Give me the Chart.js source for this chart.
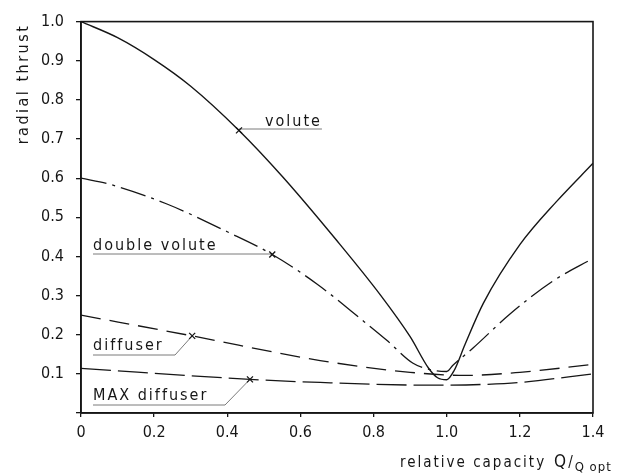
<!DOCTYPE html>
<html>
<head>
<meta charset="utf-8">
<script src="https://cdn.jsdelivr.net/npm/chart.js@4/dist/chart.umd.min.js"></script>
<style>
  html, body { margin: 0; padding: 0; background: #ffffff; }
  #wrap { width: 626px; height: 473px; }
</style>
</head>
<body>
<div id="wrap"><canvas id="c" width="626" height="473"></canvas></div>
<script>
// Relative capacity Q/Qopt and radial thrust for each casing type
const voluteQ = [0, 0.1, 0.2, 0.3, 0.432, 0.55, 0.7, 0.82, 0.9, 0.95, 0.975, 1.0, 1.02, 1.05, 1.1, 1.2, 1.3, 1.4];
const voluteR = [1.0, 0.959, 0.903, 0.835, 0.722, 0.605, 0.44, 0.30, 0.195, 0.115, 0.09, 0.085, 0.108, 0.175, 0.28, 0.43, 0.54, 0.638];

const doubleVoluteQ = [0, 0.08, 0.235, 0.40, 0.523, 0.646, 0.772, 0.837, 0.908, 0.963, 1.0, 1.017, 1.072, 1.173, 1.29, 1.4];
const doubleVoluteR = [0.6, 0.584, 0.534, 0.463, 0.405, 0.329, 0.235, 0.185, 0.127, 0.109, 0.106, 0.122, 0.166, 0.253, 0.337, 0.395];

const diffuserQ = [0, 0.304, 0.654, 0.9, 1.05, 1.2, 1.4];
const diffuserR = [0.25, 0.197, 0.134, 0.104, 0.096, 0.104, 0.124];

const maxDiffuserQ = [0, 0.462, 0.654, 0.963, 1.1, 1.2, 1.4];
const maxDiffuserR = [0.114, 0.086, 0.078, 0.071, 0.073, 0.078, 0.1];

const seriesNames = ['volute', 'double volute', 'diffuser', 'MAX diffuser'];
// index of the point each label's leader line points to
const labelPointIndex = [4, 4, 1, 1];

const xTickValues = [0, 0.2, 0.4, 0.6, 0.8, 1.0, 1.2, 1.4];
const xTickLabels = ['0', '0.2', '0.4', '0.6', '0.8', '1.0', '1.2', '1.4'];
const yTickValues = [0.1, 0.2, 0.3, 0.4, 0.5, 0.6, 0.7, 0.8, 0.9, 1.0];
const yTickLabels = ['0.1', '0.2', '0.3', '0.4', '0.5', '0.6', '0.7', '0.8', '0.9', '1.0'];

const yTitle = 'radial thrust';
const xTitle = 'relative capacity';
const xTitleSub = 'Q opt';

const INK = '#161616';
const FONT = "'DejaVu Sans Condensed', 'DejaVu Sans', sans-serif";

const toPoints = (qs, rs) => qs.map((q, i) => ({ x: q, y: rs[i] }));

const lineStyle = {
  borderColor: INK,
  backgroundColor: INK,
  pointRadius: 0,
  fill: false,
  tension: 0.4,
  cubicInterpolationMode: 'monotone'
};

const datasets = [
  Object.assign({}, lineStyle, { label: seriesNames[0], data: toPoints(voluteQ, voluteR), borderWidth: 1.4 }),
  Object.assign({}, lineStyle, { label: seriesNames[1], data: toPoints(doubleVoluteQ, doubleVoluteR), borderWidth: 1.3, borderDash: [26, 6, 3, 6] }),
  Object.assign({}, lineStyle, { label: seriesNames[2], data: toPoints(diffuserQ, diffuserR), borderWidth: 1.3, borderDash: [20, 9] }),
  Object.assign({}, lineStyle, { label: seriesNames[3], data: toPoints(maxDiffuserQ, maxDiffuserR), borderWidth: 1.3, borderDash: [30, 7] })
];

// Label placement: text left/baseline in pixels, leader elbow
const labelLayout = [
  { tx: 265, ty: 126, ly: 129, elbowX: null },
  { tx: 93, ty: 250, ly: 254, elbowX: null },
  { tx: 93, ty: 350, ly: 355, elbowX: 175 },
  { tx: 93, ty: 400, ly: 405, elbowX: 225 }
];

const decorations = {
  id: 'decorations',
  afterDraw(chart) {
    const { ctx, chartArea: a, scales } = chart;
    const xs = scales.x, ys = scales.y;
    ctx.save();

    // plot frame
    ctx.strokeStyle = INK;
    ctx.lineWidth = 1.6;
    ctx.strokeRect(a.left, a.top, a.right - a.left, a.bottom - a.top);

    // curve labels with leader lines
    ctx.font = '16px ' + FONT;
    ctx.letterSpacing = '2px';
    ctx.fillStyle = INK;
    ctx.textBaseline = 'alphabetic';
    ctx.textAlign = 'left';
    datasets.forEach((ds, i) => {
      const L = labelLayout[i];
      const p = ds.data[labelPointIndex[i]];
      const px = xs.getPixelForValue(p.x);
      const py = ys.getPixelForValue(p.y);
      ctx.fillText(seriesNames[i], L.tx, L.ty);

      ctx.strokeStyle = '#7a7a7a';
      ctx.lineWidth = 1;
      ctx.beginPath();
      if (L.elbowX === null) {
        const startX = Math.min(L.tx, px);
        const endX = i === 0 ? L.tx + ctx.measureText(seriesNames[i]).width : px;
        ctx.moveTo(i === 0 ? px : startX, L.ly);
        ctx.lineTo(endX, L.ly);
      } else {
        ctx.moveTo(L.tx, L.ly);
        ctx.lineTo(L.elbowX, L.ly);
        ctx.lineTo(px, py);
      }
      ctx.stroke();

      // small marker where the leader meets the curve
      ctx.strokeStyle = INK;
      ctx.lineWidth = 1.3;
      ctx.beginPath();
      ctx.moveTo(px - 3, py - 3); ctx.lineTo(px + 3, py + 3);
      ctx.moveTo(px - 3, py + 3); ctx.lineTo(px + 3, py - 3);
      ctx.stroke();
    });

    // y axis title, rotated, near the top
    ctx.font = '16px ' + FONT;
    ctx.letterSpacing = '2.5px';
    ctx.save();
    ctx.translate(24, 84);
    ctx.rotate(-Math.PI / 2);
    ctx.textAlign = 'center';
    ctx.textBaseline = 'middle';
    ctx.fillText(yTitle, 0, 0);
    ctx.restore();

    // x axis title with subscripted ratio
    ctx.textAlign = 'left';
    ctx.textBaseline = 'alphabetic';
    ctx.font = '15px ' + FONT;
    ctx.letterSpacing = '2px';
    let x0 = 400;
    const base = 467;
    ctx.fillText(xTitle, x0, base);
    x0 += ctx.measureText(xTitle).width + 8;
    ctx.font = '17px ' + FONT;
    ctx.fillText('Q', x0, base);
    x0 += ctx.measureText('Q').width;
    ctx.font = '15px ' + FONT;
    ctx.fillText('/', x0, base);
    x0 += ctx.measureText('/').width;
    ctx.font = '13px ' + FONT;
    ctx.letterSpacing = '1px';
    ctx.fillText(xTitleSub, x0, base + 4);

    ctx.restore();
  }
};

new Chart(document.getElementById('c'), {
  type: 'line',
  data: { datasets },
  options: {
    responsive: false,
    devicePixelRatio: 1,
    animation: false,
    layout: { padding: { left: 0, right: 33, top: 18, bottom: 0 } },
    plugins: { legend: { display: false }, tooltip: { enabled: false } },
    scales: {
      x: {
        type: 'linear',
        min: 0,
        max: 1.4,
        afterBuildTicks: (scale) => { scale.ticks = xTickValues.map(v => ({ value: v })); },
        afterFit: (scale) => { scale.height = 60; },
        ticks: {
          color: INK,
          font: { family: FONT, size: 16 },
          padding: 6,
          maxRotation: 0,
          autoSkip: false,
          callback: (v) => { const i = xTickValues.findIndex(t => Math.abs(t - v) < 1e-6); return i >= 0 ? xTickLabels[i] : ''; }
        },
        grid: { display: true, drawOnChartArea: false, drawTicks: true, tickLength: 4, color: INK, lineWidth: 1.3 },
        border: { display: true, color: INK, width: 1.6 }
      },
      y: {
        type: 'linear',
        min: 0,
        max: 1.0,
        afterBuildTicks: (scale) => { scale.ticks = [0].concat(yTickValues).map(v => ({ value: v })); },
        afterFit: (scale) => { scale.width = 81; },
        ticks: {
          color: INK,
          font: { family: FONT, size: 16 },
          padding: 12,
          autoSkip: false,
          callback: (v) => { const i = yTickValues.findIndex(t => Math.abs(t - v) < 1e-6); return i >= 0 ? yTickLabels[i] : ''; }
        },
        grid: { display: true, drawOnChartArea: false, drawTicks: true, tickLength: 5, color: INK, lineWidth: 1.3 },
        border: { display: true, color: INK, width: 1.6 }
      }
    }
  },
  plugins: [decorations]
});
</script>
</body>
</html>
